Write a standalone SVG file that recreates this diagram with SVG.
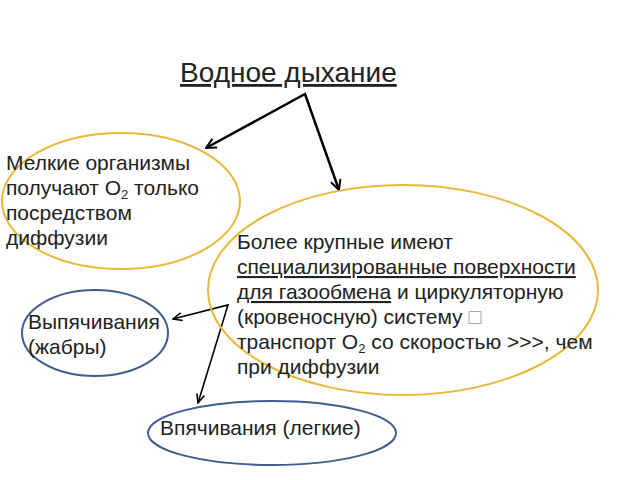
<svg xmlns="http://www.w3.org/2000/svg" width="640" height="480" viewBox="0 0 640 480">
<style>
text{font-family:"Liberation Sans",Arial,sans-serif;fill:#222}
.t{font-size:21px}
.s{font-size:13px}
.y{fill:none;stroke:#E8B83A;stroke-width:2}
.b{fill:none;stroke:#3F5E8E;stroke-width:2}
.a{fill:none;stroke:#000;stroke-width:2.5}
.a2{fill:none;stroke:#000;stroke-width:1.6}
</style>
<defs>
<marker id="m" viewBox="0 0 10 10" refX="9" refY="5" markerWidth="5" markerHeight="5" orient="auto-start-reverse" markerUnits="strokeWidth">
<path d="M1,1 L9,5 L1,9" fill="none" stroke="#000" stroke-width="1.6"/>
</marker>
<marker id="m2" viewBox="0 0 10 10" refX="9" refY="5" markerWidth="7" markerHeight="7" orient="auto-start-reverse" markerUnits="strokeWidth">
<path d="M1,1.5 L9,5 L1,8.5" fill="none" stroke="#000" stroke-width="1.4"/>
</marker>
</defs>
<g id="title">
<text x="180" y="82" style="font-size:28px;text-decoration:underline">Водное дыхание</text>
</g>
<g id="connectors">
<polyline class="a" points="206,148 305,94 339,190" marker-start="url(#m)" marker-end="url(#m)"/>
<polyline class="a2" points="173,319 228,305 198,403" marker-start="url(#m2)" marker-end="url(#m2)"/>
</g>
<g id="small">
<ellipse class="y" cx="121" cy="201" rx="119" ry="68"/>
<text class="t" x="6" y="170">Мелкие организмы</text>
<text class="t" x="6" y="195">получают O<tspan dy="4" class="s">2</tspan><tspan dy="-4"> только</tspan></text>
<text class="t" x="6" y="220">посредством</text>
<text class="t" x="6" y="245">диффузии</text>
</g>
<g id="large">
<ellipse class="y" cx="403" cy="290" rx="195" ry="105"/>
<text class="t" x="237" y="249">Более крупные имеют</text>
<text class="t" x="237" y="274" style="text-decoration:underline">специализированные поверхности</text>
<text class="t" x="237" y="299"><tspan style="text-decoration:underline">для газообмена</tspan> и циркуляторную</text>
<text class="t" x="237" y="324">(кровеносную) систему <tspan style="fill:#999">□</tspan></text>
<text class="t" x="237" y="349">транспорт O<tspan dy="4" class="s">2</tspan><tspan dy="-4"> со скоростью &gt;&gt;&gt;, чем</tspan></text>
<text class="t" x="237" y="374">при диффузии</text>
</g>
<g id="gills">
<ellipse class="b" cx="95" cy="333" rx="73" ry="43"/>
<text class="t" x="28" y="329">Выпячивания</text>
<text class="t" x="28" y="354">(жабры)</text>
</g>
<g id="lungs">
<ellipse class="b" cx="272" cy="433" rx="124" ry="32"/>
<text class="t" x="160" y="435">Впячивания (легкие)</text>
</g>
</svg>
